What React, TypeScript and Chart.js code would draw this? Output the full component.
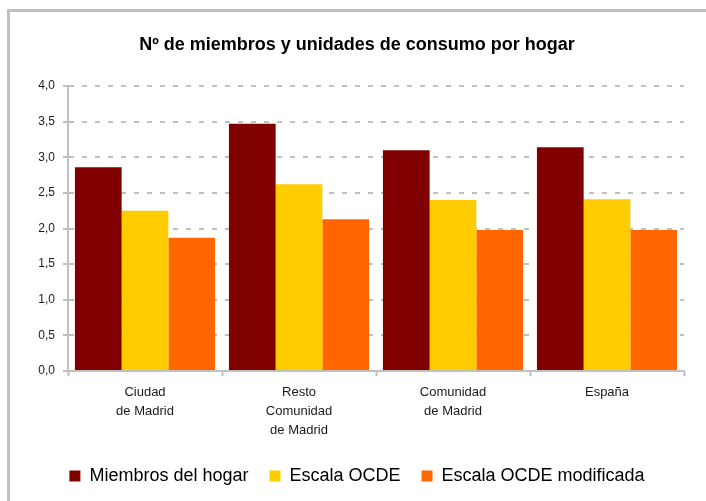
import React, { useEffect, useRef } from "react";
import { Chart, registerables } from "chart.js";

Chart.register(...registerables);

const categories: string[][] = [
  ["Ciudad", "de Madrid"],
  ["Resto", "Comunidad", "de Madrid"],
  ["Comunidad", "de Madrid"],
  ["España"],
];
const seriesNames = ["Miembros del hogar", "Escala OCDE", "Escala OCDE modificada"];
const miembros = [2.86, 3.47, 3.1, 3.14];
const escalaOCDE = [2.25, 2.62, 2.4, 2.41];
const escalaOCDEMod = [1.87, 2.13, 1.98, 1.98];
const colors = ["#800000", "#ffcc00", "#ff6600"];
const titleText = "Nº de miembros y unidades de consumo por hogar";

const FONT = "'Liberation Sans', Arial, sans-serif";

export default function App() {
  const ref = useRef<HTMLCanvasElement | null>(null);
  useEffect(() => {
    if (!ref.current) return;
    const values = [miembros, escalaOCDE, escalaOCDEMod];
    const chart = new Chart(ref.current, {
      type: "bar",
      data: {
        labels: categories,
        datasets: seriesNames.map((name, i) => ({
          label: name,
          data: values[i],
          backgroundColor: colors[i],
          borderWidth: 0,
          categoryPercentage: 0.91,
          barPercentage: 1,
          yAxisID: "y",
        })),
      },
      options: {
        responsive: false,
        animation: false,
        layout: { padding: { left: 8, right: 0, top: 0, bottom: 6 } },
        plugins: {
          tooltip: { enabled: false },
          title: {
            display: true,
            text: titleText,
            color: "#000",
            font: { family: FONT, size: 18, weight: "bold", lineHeight: 1.2 },
            padding: { top: 34.2, bottom: 30.2 },
          },
          legend: {
            position: "bottom",
            labels: {
              boxWidth: 11,
              boxHeight: 11,
              padding: 21,
              color: "#000",
              font: { family: FONT, size: 18 },
            },
          },
        },
        scales: {
          x: {
            afterFit: (s: any) => {
              s.height = 75;
            },
            grid: {
              offset: true,
              drawOnChartArea: false,
              drawTicks: true,
              tickLength: 5,
              tickColor: "#c0c0c0",
              tickWidth: 2,
            },
            border: { display: true, color: "#c0c0c0", width: 2 },
            ticks: {
              color: "#1a1a1a",
              padding: 6.5,
              maxRotation: 0,
              autoSkip: false,
              font: { family: FONT, size: 13, lineHeight: "19px" },
            },
          },
          y: {
            position: "left",
            min: 0,
            max: 4,
            afterFit: (s: any) => {
              s.width = 60;
            },
            grid: {
              color: "#c0c0c0",
              lineWidth: 2,
              drawTicks: true,
              tickLength: 5,
              tickColor: "#c0c0c0",
              tickWidth: 2,
              tickBorderDash: [],
            },
            border: { display: true, color: "#c0c0c0", width: 2, dash: [5, 8] },
            ticks: {
              stepSize: 0.5,
              color: "#1a1a1a",
              padding: 8,
              font: { family: FONT, size: 12 },
              callback: (v: any) => Number(v).toFixed(1).replace(".", ","),
            },
          },
          yRightSpacer: {
            position: "right",
            display: true,
            afterFit: (s: any) => {
              s.width = 22;
            },
            grid: { display: false, drawTicks: false },
            border: { display: false },
            ticks: { display: false },
          },
        },
      },
    } as any);
    return () => chart.destroy();
  }, []);

  return (
    <div
      style={{
        position: "fixed",
        left: 0,
        top: 0,
        width: 706,
        height: 501,
        background: "#fff",
        overflow: "hidden",
      }}
    >
      <div
        style={{
          position: "absolute",
          left: 7,
          top: 9,
          width: 800,
          height: 600,
          borderLeft: "3px solid #c0c0c0",
          borderTop: "3px solid #c0c0c0",
        }}
      />
      <canvas
        ref={ref}
        width={706}
        height={501}
        style={{ position: "absolute", left: 0, top: 0, width: 706, height: 501 }}
      />
    </div>
  );
}
